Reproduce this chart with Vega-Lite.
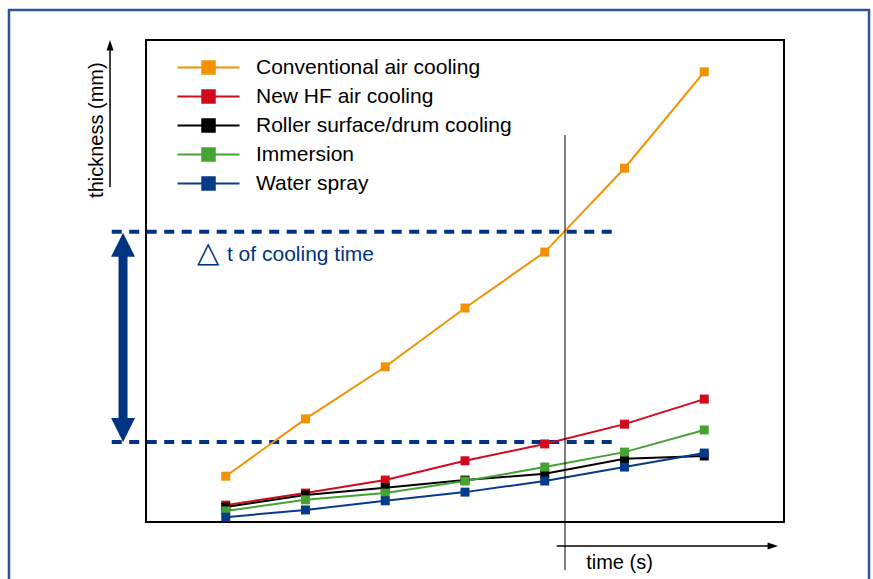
{
  "$schema": "https://vega.github.io/schema/vega-lite/v6.json",
  "autosize": {"type": "none"},
  "width": 638,
  "height": 482,
  "padding": {"left": 146, "top": 40, "right": 89, "bottom": 57},
  "background": "white",
  "config": {"view": {"stroke": "#000", "strokeWidth": 2}, "font": "Liberation Sans"},
  "datasets": {
    "series": [
      {"series": "Conventional air cooling", "time": 1, "thickness": 9.5},
      {"series": "Conventional air cooling", "time": 2, "thickness": 21.4},
      {"series": "Conventional air cooling", "time": 3, "thickness": 32.2},
      {"series": "Conventional air cooling", "time": 4, "thickness": 44.4},
      {"series": "Conventional air cooling", "time": 5, "thickness": 56.0},
      {"series": "Conventional air cooling", "time": 6, "thickness": 73.4},
      {"series": "Conventional air cooling", "time": 7, "thickness": 93.4},
      {"series": "New HF air cooling", "time": 1, "thickness": 3.5},
      {"series": "New HF air cooling", "time": 2, "thickness": 6.0},
      {"series": "New HF air cooling", "time": 3, "thickness": 8.7},
      {"series": "New HF air cooling", "time": 4, "thickness": 12.7},
      {"series": "New HF air cooling", "time": 5, "thickness": 16.2},
      {"series": "New HF air cooling", "time": 6, "thickness": 20.3},
      {"series": "New HF air cooling", "time": 7, "thickness": 25.5},
      {"series": "Roller surface/drum cooling", "time": 1, "thickness": 3.1},
      {"series": "Roller surface/drum cooling", "time": 2, "thickness": 5.6},
      {"series": "Roller surface/drum cooling", "time": 3, "thickness": 7.1},
      {"series": "Roller surface/drum cooling", "time": 4, "thickness": 8.7},
      {"series": "Roller surface/drum cooling", "time": 5, "thickness": 10.0},
      {"series": "Roller surface/drum cooling", "time": 6, "thickness": 13.1},
      {"series": "Roller surface/drum cooling", "time": 7, "thickness": 13.7},
      {"series": "Immersion", "time": 1, "thickness": 2.3},
      {"series": "Immersion", "time": 2, "thickness": 4.6},
      {"series": "Immersion", "time": 3, "thickness": 6.0},
      {"series": "Immersion", "time": 4, "thickness": 8.5},
      {"series": "Immersion", "time": 5, "thickness": 11.4},
      {"series": "Immersion", "time": 6, "thickness": 14.5},
      {"series": "Immersion", "time": 7, "thickness": 19.1},
      {"series": "Water spray", "time": 1, "thickness": 1.0},
      {"series": "Water spray", "time": 2, "thickness": 2.5},
      {"series": "Water spray", "time": 3, "thickness": 4.4},
      {"series": "Water spray", "time": 4, "thickness": 6.2},
      {"series": "Water spray", "time": 5, "thickness": 8.5},
      {"series": "Water spray", "time": 6, "thickness": 11.4},
      {"series": "Water spray", "time": 7, "thickness": 14.3}
    ]
  },
  "layer": [
    {
      "data": {"values": [{}]},
      "mark": {"type": "rect", "fill": "transparent", "stroke": "#2f5597", "strokeWidth": 2.5, "clip": false},
      "encoding": {
        "x": {"datum": -1.718, "type": "quantitative", "scale": {"domain": [0, 8], "nice": false, "zero": false}, "axis": null},
        "x2": {"datum": 9.066},
        "y": {"datum": 106.2, "type": "quantitative", "scale": {"domain": [0, 100], "nice": false, "zero": false}, "axis": null},
        "y2": {"datum": -16}
      }
    },
    {
      "data": {"values": [{"level": 60.2}, {"level": 16.6}]},
      "mark": {"type": "rule", "color": "#003380", "strokeWidth": 4, "strokeDash": [10, 7.5], "clip": false},
      "encoding": {
        "x": {"datum": -0.43, "type": "quantitative"},
        "x2": {"datum": 5.84},
        "y": {"field": "level", "type": "quantitative"}
      }
    },
    {
      "data": {"values": [{}]},
      "mark": {"type": "rule", "color": "#003380", "strokeWidth": 9, "clip": false},
      "encoding": {
        "x": {"datum": -0.288, "type": "quantitative"},
        "y": {"datum": 57.5, "type": "quantitative"},
        "y2": {"datum": 19.1}
      }
    },
    {
      "data": {"values": [{}]},
      "mark": {"type": "point", "shape": "M0,-1L1,1L-1,1Z", "size": 576, "filled": true, "color": "#003380", "opacity": 1, "clip": false},
      "encoding": {
        "x": {"datum": -0.288, "type": "quantitative"},
        "y": {"datum": 57.5, "type": "quantitative"}
      }
    },
    {
      "data": {"values": [{}]},
      "mark": {"type": "point", "shape": "M0,1L1,-1L-1,-1Z", "size": 576, "filled": true, "color": "#003380", "opacity": 1, "clip": false},
      "encoding": {
        "x": {"datum": -0.288, "type": "quantitative"},
        "y": {"datum": 19.1, "type": "quantitative"}
      }
    },
    {
      "data": {"name": "series"},
      "mark": {"type": "line", "strokeWidth": 2},
      "encoding": {
        "x": {"field": "time", "type": "quantitative"},
        "y": {"field": "thickness", "type": "quantitative"},
        "color": {
          "field": "series",
          "type": "nominal",
          "scale": {
            "domain": ["Conventional air cooling", "New HF air cooling", "Roller surface/drum cooling", "Immersion", "Water spray"],
            "range": ["#f39200", "#d20a1e", "#000000", "#45a233", "#063a8a"]
          },
          "legend": {
            "title": null,
            "orient": "none",
            "legendX": 52,
            "legendY": 17,
            "symbolType": "M-6.2,0L6.2,0M-1.25,-1.25L1.25,-1.25L1.25,1.25L-1.25,1.25Z",
            "symbolSize": 100,
            "symbolStrokeWidth": 2,
            "labelFontSize": 21,
            "labelFont": "Liberation Sans",
            "labelColor": "#000",
            "labelOffset": 37,
            "labelLimit": 500,
            "rowPadding": 7,
            "padding": 0,
            "encode": {
              "symbols": {
                "update": {
                  "fill": {"scale": "color", "field": "value"},
                  "stroke": {"scale": "color", "field": "value"},
                  "strokeWidth": {"value": 2},
                  "opacity": {"value": 1},
                  "shape": {"value": "M-6.2,0L6.2,0M-1.25,-1.25L1.25,-1.25L1.25,1.25L-1.25,1.25Z"}
                }
              }
            }
          }
        }
      }
    },
    {
      "data": {"name": "series"},
      "mark": {"type": "point", "shape": "square", "size": 81, "filled": true, "opacity": 1},
      "encoding": {
        "x": {"field": "time", "type": "quantitative"},
        "y": {"field": "thickness", "type": "quantitative"},
        "color": {"field": "series", "type": "nominal"}
      }
    },
    {
      "data": {"values": [{}]},
      "mark": {"type": "rule", "color": "#000", "strokeWidth": 1, "clip": false},
      "encoding": {
        "x": {"datum": 5.254, "type": "quantitative"},
        "y": {"datum": 80.3, "type": "quantitative"},
        "y2": {"datum": -9.96}
      }
    },
    {
      "data": {"values": [{}]},
      "mark": {"type": "rule", "color": "#000", "strokeWidth": 1.5, "clip": false},
      "encoding": {
        "x": {"datum": -0.451, "type": "quantitative"},
        "y": {"datum": 69.5, "type": "quantitative"},
        "y2": {"datum": 98}
      }
    },
    {
      "data": {"values": [{}]},
      "mark": {"type": "point", "shape": "M0,-1.5L1,1.5L-1,1.5Z", "size": 49, "filled": true, "color": "#000", "opacity": 1, "clip": false},
      "encoding": {
        "x": {"datum": -0.451, "type": "quantitative"},
        "y": {"datum": 98.9, "type": "quantitative"}
      }
    },
    {
      "data": {"values": [{}]},
      "mark": {"type": "rule", "color": "#000", "strokeWidth": 1.5, "clip": false},
      "encoding": {
        "x": {"datum": 5.15, "type": "quantitative"},
        "x2": {"datum": 7.85},
        "y": {"datum": -5.0, "type": "quantitative"}
      }
    },
    {
      "data": {"values": [{}]},
      "mark": {"type": "point", "shape": "M1.5,0L-1.5,-1L-1.5,1Z", "size": 49, "filled": true, "color": "#000", "opacity": 1, "clip": false},
      "encoding": {
        "x": {"datum": 7.86, "type": "quantitative"},
        "y": {"datum": -5.0, "type": "quantitative"}
      }
    },
    {
      "data": {"values": [{}]},
      "mark": {"type": "text", "text": "thickness (mm)", "angle": 270, "fontSize": 20, "font": "Liberation Sans", "color": "#000", "align": "center", "baseline": "middle", "clip": false},
      "encoding": {
        "x": {"datum": -0.614, "type": "quantitative"},
        "y": {"datum": 81.3, "type": "quantitative"}
      }
    },
    {
      "data": {"values": [{}]},
      "mark": {"type": "text", "text": "time (s)", "fontSize": 20, "font": "Liberation Sans", "color": "#000", "align": "center", "baseline": "middle", "clip": false},
      "encoding": {
        "x": {"datum": 5.937, "type": "quantitative"},
        "y": {"datum": -8.5, "type": "quantitative"}
      }
    },
    {
      "data": {"values": [{}]},
      "mark": {"type": "text", "text": "△", "fontSize": 29, "font": "DejaVu Sans", "color": "#003380", "align": "left", "baseline": "middle", "clip": false},
      "encoding": {
        "x": {"datum": 0.64, "type": "quantitative"},
        "y": {"datum": 55.8, "type": "quantitative"}
      }
    },
    {
      "data": {"values": [{}]},
      "mark": {"type": "text", "text": "t of cooling time", "fontSize": 21, "font": "Liberation Sans", "color": "#003380", "align": "left", "baseline": "middle", "clip": false},
      "encoding": {
        "x": {"datum": 1.015, "type": "quantitative"},
        "y": {"datum": 55.4, "type": "quantitative"}
      }
    }
  ]
}
